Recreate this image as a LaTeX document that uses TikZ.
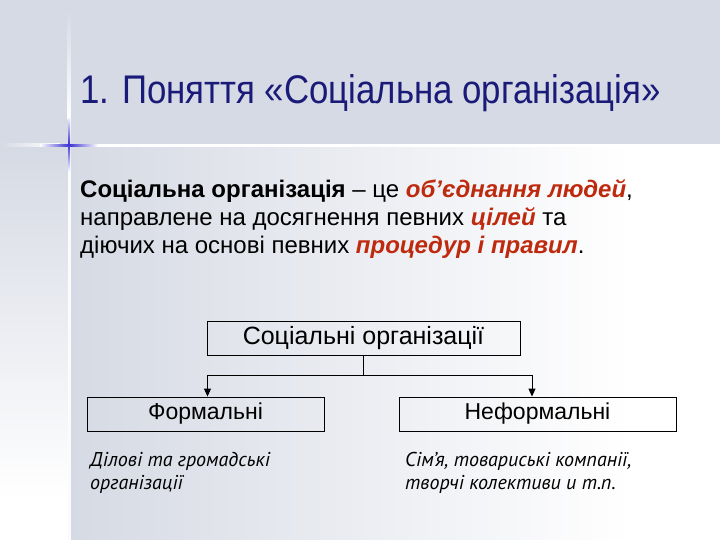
\documentclass[tikz,border=0pt]{standalone}
\usepackage{fontspec}
\setmainfont{Liberation Sans}
\newfontfamily\titlefont{Liberation Sans}[FakeStretch=0.87]
\newfontfamily\notefont{PT Sans}
\usetikzlibrary{positioning, arrows.meta}

\definecolor{band}{RGB}{214,218,228}
\definecolor{titleblue}{RGB}{26,26,120}
\definecolor{accent}{RGB}{190,42,14}
\definecolor{crossblue}{RGB}{60,50,210}

\newcommand{\redword}[1]{\textcolor{accent}{\textbf{\textit{#1}}}}

\begin{document}
\begin{tikzpicture}[x=1pt, y=-1pt,
    orgbox/.style={draw, line width=0.9pt, minimum height=34pt, inner sep=0pt,
        font=\fontsize{23}{26}\selectfont},
    note/.style={anchor=base west, align=left, inner sep=0pt,
        font=\notefont\itshape\fontsize{20}{23}\selectfont},
    link/.style={line width=0.9pt},
    linkarrow/.style={link, -{Triangle[length=8pt, width=7pt]}}]
    \useasboundingbox (0,0) rectangle (720,540);
    % background
    \fill[band] (0,0) rectangle (720,145);
    \shade[left color=band, right color=white] (70,147) rectangle (630,540);
    \fill[white] (630,147) rectangle (720,540);
    \shade[top color=band, bottom color=white] (0,147) rectangle (68,500);
    \fill[white] (0,500) rectangle (68,540);
    \shade[left color=band, right color=white] (0,144) rectangle (60,147);
    \fill[white] (60,144) rectangle (720,147);
    \shade[top color=band, bottom color=white] (67.5,10) rectangle (70.5,120);
    \fill[white!90!band] (67.5,120) rectangle (70.5,540);
    % blue cross
    \shade[left color=white, right color=white, middle color=crossblue] (40,144.4) rectangle (98,146.2);
    \shade[top color=white, bottom color=white, middle color=crossblue] (68.2,116) rectangle (70,172);

    \node[anchor=base west, inner sep=0pt, text=titleblue,
        font=\titlefont\fontsize{40}{42}\selectfont] (title) at (80,104)
        {1. Поняття «Соціальна організація»};

    \foreach \txt [count=\i] in {{\textbf{Соціальна організація} – це \redword{об’єднання людей},},
        {направлене на досягнення певних \redword{цілей} та},
        {діючих на основі певних \redword{процедур і правил}.}} {
        \node[anchor=base west, inner sep=0pt, font=\fontsize{24}{28}\selectfont]
            (defn\i) at (80,{197+28.5*(\i-1)}) {\txt};
    }

    \node[orgbox, minimum width=313pt, font=\fontsize{25}{28}\selectfont] (root) at (363.5,338.5) {Соціальні організації};
    \node[orgbox, minimum width=237pt] (formal) at (205.5,414) {Формальні};
    \node[orgbox, minimum width=277pt] (informal) at (537.5,414) {Неформальні};

    \coordinate (split) at (363.5,375.5);
    \coordinate (lefttap) at (207.5,375.5);
    \coordinate (righttap) at (532,375.5);
    \draw[link] (root.south) -- (split);
    \draw[linkarrow] (split) -- (lefttap) -- (lefttap |- formal.north);
    \draw[linkarrow] (split) -- (righttap) -- (righttap |- informal.north);

    % base anchor sits on the last line
    \node[note] (formalnote) at (90,489) {Ділові та громадські\\організації};
    \node[note] (informalnote) at (405,489) {Сім’я, товариські компанії,\\творчі колективи и т.п.};
\end{tikzpicture}
\end{document}
